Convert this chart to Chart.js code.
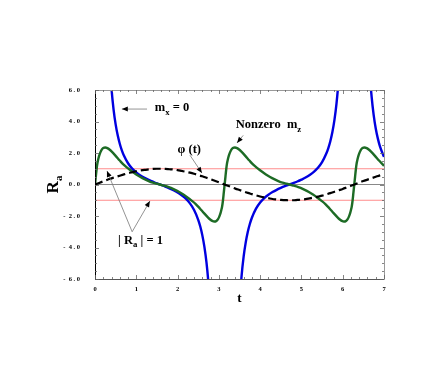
<!DOCTYPE html>
<html><head><meta charset="utf-8">
<script src="https://cdn.jsdelivr.net/npm/chart.js@4.4.0/dist/chart.umd.min.js"></script>
<style>html,body{margin:0;padding:0;background:#fff}#wrap{width:443px;height:374px}</style>
</head><body><div id="wrap"><canvas id="c" width="443" height="374"></canvas></div>
<script>
// ---- data ----
const xTickValues = [0,1,2,3,4,5,6,7];
const yTickValues = [-6,-4,-2,0,2,4,6];
const referenceLevels = [1,-1];   // |R_a| = 1
const zeroLevel = [0];

// phi(t) dashed curve
const phiT = [0,0.1,0.2,0.3,0.4,0.5,0.6,0.7,0.8,0.9,1.0,1.1,1.2,1.3,1.4,1.5,1.6,1.7,1.8,1.9,2.0,2.1,2.2,2.3,2.4,2.5,2.6,2.7,2.8,2.9,3.0,3.1,3.2,3.3,3.4,3.5,3.6,3.7,3.8,3.9,4.0,4.1,4.2,4.3,4.4,4.5,4.6,4.7,4.8,4.9,5.0,5.1,5.2,5.3,5.4,5.5,5.6,5.7,5.8,5.9,6.0,6.1,6.2,6.3,6.4,6.5,6.6,6.7,6.8,6.9,7.0];
const phiV = [0,0.10,0.20,0.30,0.39,0.48,0.56,0.64,0.72,0.78,0.84,0.89,0.93,0.96,0.99,1.00,1.00,0.99,0.97,0.95,0.91,0.86,0.81,0.75,0.68,0.60,0.52,0.43,0.34,0.24,0.14,0.04,-0.06,-0.16,-0.26,-0.35,-0.44,-0.53,-0.61,-0.69,-0.76,-0.82,-0.87,-0.92,-0.95,-0.98,-0.99,-1.00,-1.00,-0.98,-0.96,-0.93,-0.88,-0.83,-0.77,-0.71,-0.63,-0.55,-0.46,-0.37,-0.28,-0.18,-0.08,0.02,0.12,0.22,0.31,0.40,0.49,0.58,0.66];

// m_x = 0 curve (blue), null separates branches
const blueT = [0.35,0.4,0.45,0.5,0.55,0.6,0.65,0.7,0.8,0.9,1.0,1.1,1.2,1.3,1.4,1.5,1.6,1.7,1.8,1.9,2.0,2.1,2.2,2.3,2.4,2.5,2.55,2.6,2.65,2.7,2.75,2.8,
  3.15,
  3.5,3.55,3.6,3.65,3.7,3.75,3.8,3.9,4.0,4.1,4.2,4.3,4.4,4.5,4.6,4.7,4.8,4.9,5.0,5.1,5.2,5.3,5.4,5.5,5.6,5.65,5.7,5.75,5.8,5.85,5.9,5.95,
  6.3,
  6.6,6.65,6.7,6.75,6.8,6.85,6.9,7.0];
const blueV = [7.99,6.07,4.76,3.82,3.12,2.59,2.17,1.84,1.35,1.01,0.76,0.57,0.42,0.29,0.18,0.07,-0.03,-0.13,-0.24,-0.36,-0.50,-0.68,-0.90,-1.20,-1.62,-2.24,-2.67,-3.23,-3.96,-4.95,-6.34,-8.40,
  null,
  -7.61,-5.82,-4.58,-3.69,-3.02,-2.51,-2.11,-1.53,-1.14,-0.86,-0.65,-0.48,-0.34,-0.22,-0.11,-0.01,0.09,0.19,0.31,0.44,0.60,0.80,1.06,1.42,1.95,2.30,2.75,3.33,4.10,5.15,6.63,8.83,
  null,
  9.79,7.26,5.58,4.41,3.56,2.93,2.44,1.75];

// Nonzero m_z curve (green)
const greenT = [0,0.02,0.04,0.06,0.08,0.10,0.13,0.16,0.20,0.25,0.30,0.35,0.40,0.50,0.60,0.70,0.80,0.90,1.00,1.10,1.20,1.30,1.40,1.50,1.57,
  1.64,1.74,1.84,1.94,2.04,2.14,2.24,2.34,2.44,2.54,2.64,2.74,2.79,2.84,2.89,2.94,2.98,3.01,3.04,3.06,3.08,3.10,3.12,3.14,
  3.16,3.18,3.20,3.22,3.24,3.27,3.30,3.34,3.39,3.44,3.49,3.54,3.64,3.74,3.84,3.94,4.04,4.14,4.24,4.34,4.44,4.54,4.64,4.71,
  4.78,4.88,4.98,5.08,5.18,5.28,5.38,5.48,5.58,5.68,5.78,5.88,5.93,5.98,6.03,6.08,6.12,6.15,6.18,6.20,6.22,6.24,6.26,6.28,
  6.30,6.32,6.34,6.36,6.38,6.41,6.44,6.48,6.53,6.58,6.63,6.68,6.78,6.88,6.98,7.0];
const greenV = [0,0.5,1.0,1.38,1.62,1.82,2.04,2.2,2.31,2.35,2.31,2.22,2.1,1.82,1.52,1.24,1.02,0.82,0.64,0.48,0.34,0.22,0.12,0.05,0,
  -0.05,-0.12,-0.22,-0.34,-0.48,-0.64,-0.82,-1.02,-1.24,-1.52,-1.82,-2.1,-2.22,-2.31,-2.35,-2.31,-2.2,-2.04,-1.82,-1.62,-1.38,-1.0,-0.5,0,
  0.5,1.0,1.38,1.62,1.82,2.04,2.2,2.31,2.35,2.31,2.22,2.1,1.82,1.52,1.24,1.02,0.82,0.64,0.48,0.34,0.22,0.12,0.05,0,
  -0.05,-0.12,-0.22,-0.34,-0.48,-0.64,-0.82,-1.02,-1.24,-1.52,-1.82,-2.1,-2.22,-2.31,-2.35,-2.31,-2.2,-2.04,-1.82,-1.62,-1.38,-1.0,-0.5,0,
  0.5,1.0,1.38,1.62,1.82,2.04,2.2,2.31,2.35,2.31,2.22,2.1,1.82,1.52,1.24,1.19];

const xMin = 0, xMax = 7, yMin = -6, yMax = 6;

const pts = (ts, vs) => ts.map((t,i) => ({x:t, y:vs[i]}));
const hline = v => [{x:xMin, y:v},{x:xMax, y:v}];

const SERIF = "'Liberation Serif', 'DejaVu Serif', serif";

function richText(ctx, x, y, parts, size) {
  let cx = x;
  parts.forEach(p => {
    ctx.font = 'bold ' + (p[1] ? size*0.7 : size) + 'px ' + SERIF;
    ctx.fillText(p[0], cx, y + (p[1] ? size*0.3 : 0));
    cx += ctx.measureText(p[0]).width;
  });
}

function arrow(ctx, x1, y1, x2, y2, len, half) {
  ctx.strokeStyle = '#777'; ctx.lineWidth = 0.8;
  ctx.beginPath(); ctx.moveTo(x1,y1); ctx.lineTo(x2,y2); ctx.stroke();
  const a = Math.atan2(y2-y1, x2-x1);
  ctx.fillStyle = '#000';
  ctx.beginPath();
  ctx.moveTo(x2, y2);
  ctx.lineTo(x2 - len*Math.cos(a) + half*Math.sin(a), y2 - len*Math.sin(a) - half*Math.cos(a));
  ctx.lineTo(x2 - len*Math.cos(a) - half*Math.sin(a), y2 - len*Math.sin(a) + half*Math.cos(a));
  ctx.closePath(); ctx.fill();
}

const decor = {
  id: 'decor',
  afterDraw(chart) {
    const ctx = chart.ctx, xs = chart.scales.x, ys = chart.scales.y;
    const X = v => xs.getPixelForValue(v), Y = v => ys.getPixelForValue(v);
    const L = chart.chartArea.left, R = chart.chartArea.right, T = chart.chartArea.top, B = chart.chartArea.bottom;
    ctx.save();
    // frame
    ctx.lineWidth = 1;
    ctx.strokeStyle = '#999';
    ctx.beginPath(); ctx.moveTo(L, T+0.5); ctx.lineTo(R+0.5, T+0.5); ctx.lineTo(R+0.5, B); ctx.stroke();
    ctx.strokeStyle = '#555';
    ctx.beginPath(); ctx.moveTo(L, B+0.5); ctx.lineTo(R+0.5, B+0.5); ctx.stroke();
    ctx.strokeStyle = '#000';
    ctx.beginPath(); ctx.moveTo(L+0.5, T); ctx.lineTo(L+0.5, B+1); ctx.stroke();
    // ticks
    ctx.strokeStyle = '#666'; ctx.lineWidth = 0.8;
    ctx.beginPath();
    for (let k = 0; k <= 35; k++) {
      const v = xMin + k*0.2, px = Math.round(X(v)) + 0.5, len = (k % 5 === 0) ? 4 : 2;
      ctx.moveTo(px, B); ctx.lineTo(px, B - len);
      ctx.moveTo(px, T); ctx.lineTo(px, T + len);
    }
    for (let k = 0; k <= 24; k++) {
      const v = yMin + k*0.5, py = Math.round(Y(v)) + 0.5, len = (k % 4 === 0) ? 4 : 2;
      ctx.moveTo(L, py); ctx.lineTo(L + len, py);
      ctx.moveTo(R, py); ctx.lineTo(R - len, py);
    }
    ctx.stroke();

    // axis titles
    ctx.fillStyle = '#000';
    ctx.textBaseline = 'alphabetic';
    ctx.font = 'bold 13px ' + SERIF; ctx.textAlign = 'center';
    ctx.fillText('t', (L+R)/2, B + 23);
    ctx.save();
    ctx.translate(L - 42, (T+B)/2);
    ctx.rotate(-Math.PI/2);
    ctx.textAlign = 'left';
    ctx.font = 'bold 17px ' + SERIF;
    const wR = ctx.measureText('R').width;
    ctx.font = 'bold 11px ' + SERIF;
    const wa = ctx.measureText('a').width;
    ctx.font = 'bold 17px ' + SERIF;
    ctx.fillText('R', -(wR+wa)/2, 5);
    ctx.font = 'bold 11px ' + SERIF;
    ctx.fillText('a', -(wR+wa)/2 + wR, 9);
    ctx.restore();

    // annotations (positions in data units)
    ctx.textAlign = 'left';
    richText(ctx, X(1.45), Y(4.68), [['m'],['x',1],[' = 0']], 12.5);
    arrow(ctx, X(1.26), Y(4.79), X(0.65), Y(4.79), 6, 2.5);
    richText(ctx, X(3.41), Y(3.6), [['Nonzero  m'],['z',1]], 12.5);
    arrow(ctx, X(3.59), Y(3.12), X(3.44), Y(2.64), 6, 2.5);
    richText(ctx, X(2.0), Y(2.03), [['\u03c6 (t)']], 12.5);
    arrow(ctx, X(2.30), Y(1.86), X(2.59), Y(0.73), 6, 2.5);
    richText(ctx, X(0.56), Y(-3.75), [['| R'],['a',1],[' | = 1']], 12.5);
    arrow(ctx, X(0.90), Y(-3.0), X(0.29), Y(0.86), 6, 2.5);
    arrow(ctx, X(0.90), Y(-3.0), X(1.33), Y(-1.05), 6, 2.5);
    ctx.restore();
  }
};

new Chart(document.getElementById('c'), {
  type: 'line',
  data: {
    datasets: [
      { data: pts(phiT, phiV), borderColor: '#000', borderWidth: 2.2, borderDash: [8,4], pointRadius: 0, cubicInterpolationMode: 'monotone' },
      { data: pts(greenT, greenV), borderColor: '#1d6b25', borderWidth: 2.4, pointRadius: 0, cubicInterpolationMode: 'monotone' },
      { data: pts(blueT, blueV), borderColor: '#0000e0', borderWidth: 2.4, pointRadius: 0, cubicInterpolationMode: 'monotone', spanGaps: false },
      { data: hline(referenceLevels[0]), borderColor: '#ff8c8c', borderWidth: 1, pointRadius: 0 },
      { data: hline(referenceLevels[1]), borderColor: '#ff8c8c', borderWidth: 1, pointRadius: 0 },
      { data: hline(zeroLevel[0]), borderColor: '#888', borderWidth: 1, pointRadius: 0 }
    ]
  },
  options: {
    responsive: false,
    devicePixelRatio: 1,
    animation: false,
    layout: { padding: { left: 0, top: 90, right: 59, bottom: 75 } },
    plugins: { legend: { display: false }, tooltip: { enabled: false } },
    scales: {
      x: {
        type: 'linear', min: xMin, max: xMax,
        afterFit(s) { s.height = 20; },
        afterBuildTicks(s) { s.ticks = xTickValues.map(v => ({value: v})); },
        grid: { display: false, drawTicks: false },
        border: { display: false },
        ticks: { padding: 6, color: '#000', font: { family: SERIF, size: 6.5, weight: 'bold' }, callback: v => String(v), maxRotation: 0 }
      },
      y: {
        type: 'linear', min: yMin, max: yMax,
        afterFit(s) { s.width = 95; },
        afterBuildTicks(s) { s.ticks = yTickValues.map(v => ({value: v})); },
        grid: { display: false, drawTicks: false },
        border: { display: false },
        ticks: { padding: 15, color: '#000', font: { family: SERIF, size: 6.5, weight: 'bold' },
          callback: v => (v < 0 ? '-  ' : '') + Math.abs(v) + ' . 0' }
      }
    }
  },
  plugins: [decor]
});
</script></body></html>
